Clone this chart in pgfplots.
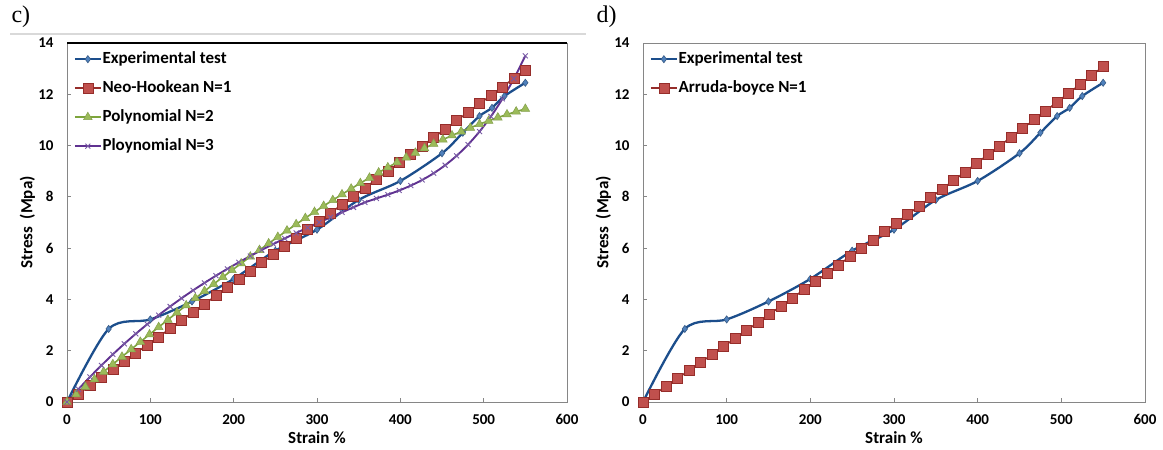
\documentclass[border=0pt]{standalone}
\usepackage{pgfplots}
\pgfplotsset{compat=1.18}
\usepackage{fontspec}
\setmainfont{Carlito}
\newfontfamily\seriffont{Liberation Serif}
\definecolor{bline}{RGB}{28,78,140}
\definecolor{bfill}{RGB}{79,129,189}
\definecolor{rline}{RGB}{150,45,42}
\definecolor{rfill}{RGB}{192,80,77}
\definecolor{gline}{RGB}{125,165,60}
\definecolor{gfill}{RGB}{155,187,89}
\definecolor{pline}{RGB}{96,50,145}
\definecolor{pmark}{RGB}{120,90,165}
\definecolor{axgray}{RGB}{134,134,134}

\pgfplotsset{
  panel/.style={
    scale only axis, height=359pt,
    xmin=0, xmax=600, ymin=0, ymax=14,
    xtick={0,100,...,600}, ytick={0,2,...,14},
    tick pos=left, tick align=inside, major tick length=4pt,
    axis line style={draw=axgray, line width=0.9pt},
    every tick/.style={axgray, line width=0.9pt},
    /pgf/number format/assume math mode=true,
    tick label style={font=\fontsize{15}{17}\selectfont\bfseries},
    xticklabel style={yshift=-9pt},
    yticklabel style={xshift=-10pt},
    xlabel={Strain \%}, ylabel={Stress\ \ (Mpa)},
    label style={font=\fontsize{17}{20}\selectfont\bfseries},
    xlabel style={at={(axis description cs:0.5,-0.1003)}, anchor=center},
    ylabel style={at={(axis description cs:-0.079,0.5)}, anchor=center},
    clip=false,
    legend cell align=left,
    legend style={draw=none, fill=none, at={(axis description cs:0.007,0.984)}, anchor=north west,
      font=\fontsize{17}{20}\selectfont\bfseries, row sep=12.5pt,
      nodes={inner sep=0.5pt, text height=12pt, text depth=3.5pt},
      /tikz/every even column/.append style={column sep=2pt}},
    legend image code/.code={\draw[mark repeat=2,mark phase=2,##1] plot coordinates {(0pt,0pt)(13pt,0pt)(26pt,0pt)};},
  },
  expst/.style={color=bline, line width=2.3pt, smooth, mark=diamond*, mark size=3.6pt,
    mark options={fill=bfill, draw=bfill!70!black, line width=0.6pt, solid}},
  redst/.style={color=rline, line width=1.6pt, smooth, mark=square*, mark size=5pt,
    mark options={fill=rfill, draw=rline, line width=0.6pt, solid}},
  grnst/.style={color=gline, line width=1.6pt, smooth, mark=triangle*, mark size=5pt,
    mark options={fill=gfill, draw=gfill!85!black, line width=0.5pt, solid}},
  purst/.style={color=pline, line width=1.9pt, smooth, mark=x, mark size=3.5pt,
    mark options={draw=pmark, line width=0.9pt, solid}},
}

\begin{document}
\begin{tikzpicture}
\useasboundingbox (0,0) rectangle (1163pt,450pt);
\node[anchor=west, font=\seriffont\fontsize{24}{26}\selectfont] at (8pt,433pt) {c)};
\node[anchor=west, font=\seriffont\fontsize{24}{26}\selectfont] at (593pt,433pt) {d)};
\draw[gray!30, line width=2pt] (10pt,416pt) -- (586pt,416pt);

% ---------- c) ----------
\begin{axis}[panel, width=500pt, at={(67pt,48pt)}, anchor=south west]
\addplot[expst] coordinates {(0,0)(50,2.85)(100,3.22)(150,3.92)(200,4.8)(250,5.9)(300,6.72)(350,7.88)(400,8.62)(450,9.7)(475,10.5)(495,11.15)(510,11.47)(525,11.93)(550,12.45)};
\addlegendentry{Experimental test}
\addplot[redst] coordinates {(0,0)(13.75,0.316)(27.5,0.633)(41.25,0.950)(55,1.268)(68.75,1.586)(82.5,1.904)(96.25,2.223)(110,2.542)(123.75,2.862)(137.5,3.181)(151.25,3.502)(165,3.822)(178.75,4.143)(192.5,4.465)(206.25,4.786)(220,5.108)(233.75,5.431)(247.5,5.754)(261.25,6.077)(275,6.401)(288.75,6.725)(302.5,7.049)(316.25,7.374)(330,7.699)(343.75,8.024)(357.5,8.350)(371.25,8.677)(385,9.003)(398.75,9.330)(412.5,9.658)(426.25,9.986)(440,10.314)(453.75,10.642)(467.5,10.971)(481.25,11.300)(495,11.630)(508.75,11.960)(522.5,12.290)(536.25,12.621)(550,12.953)};
\addlegendentry{Neo-Hookean N=1}
\addplot[grnst] coordinates {(0,0)(11,0.296)(22,0.591)(33,0.885)(44,1.179)(55,1.472)(66,1.764)(77,2.055)(88,2.345)(99,2.633)(110,2.920)(121,3.205)(132,3.488)(143,3.769)(154,4.047)(165,4.324)(176,4.598)(187,4.870)(198,5.138)(209,5.404)(220,5.667)(231,5.927)(242,6.183)(253,6.436)(264,6.685)(275,6.931)(286,7.173)(297,7.410)(308,7.644)(319,7.873)(330,8.098)(341,8.318)(352,8.533)(363,8.744)(374,8.949)(385,9.149)(396,9.344)(407,9.533)(418,9.717)(429,9.895)(440,10.067)(451,10.233)(462,10.393)(473,10.546)(484,10.693)(495,10.834)(506,10.967)(517,11.093)(528,11.213)(539,11.325)(550,11.430)};
\addlegendentry{Polynomial N=2}
\addplot[purst] coordinates {(0,0)(13.75,0.498)(27.5,0.974)(41.25,1.426)(55,1.857)(68.75,2.268)(82.5,2.659)(96.25,3.031)(110,3.386)(123.75,3.724)(137.5,4.045)(151.25,4.352)(165,4.645)(178.75,4.925)(192.5,5.192)(206.25,5.448)(220,5.694)(233.75,5.930)(247.5,6.158)(261.25,6.378)(275,6.591)(288.75,6.799)(302.5,7.002)(316.25,7.201)(330,7.397)(343.75,7.591)(357.5,7.784)(371.25,7.937)(385,8.086)(398.75,8.250)(412.5,8.439)(426.25,8.660)(440,8.921)(453.75,9.232)(467.5,9.601)(481.25,10.036)(495,10.545)(508.75,11.138)(522.5,11.822)(536.25,12.607)(550,13.500)};
\addlegendentry{Ploynomial N=3}
\draw[black, line width=1.8pt] (rel axis cs:0,1) -- (rel axis cs:1,1);
\end{axis}

% ---------- d) ----------
\begin{axis}[panel, width=502pt, at={(643pt,48pt)}, anchor=south west]
\addplot[expst] coordinates {(0,0)(50,2.85)(100,3.22)(150,3.92)(200,4.8)(250,5.9)(300,6.72)(350,7.88)(400,8.62)(450,9.7)(475,10.5)(495,11.15)(510,11.47)(525,11.93)(550,12.45)};
\addlegendentry{Experimental test}
\addplot[redst] coordinates {(0,0)(13.75,0.306)(27.5,0.613)(41.25,0.921)(55,1.230)(68.75,1.540)(82.5,1.851)(96.25,2.163)(110,2.477)(123.75,2.791)(137.5,3.107)(151.25,3.424)(165,3.741)(178.75,4.060)(192.5,4.380)(206.25,4.701)(220,5.023)(233.75,5.347)(247.5,5.671)(261.25,5.996)(275,6.323)(288.75,6.650)(302.5,6.979)(316.25,7.309)(330,7.640)(343.75,7.972)(357.5,8.305)(371.25,8.639)(385,8.974)(398.75,9.310)(412.5,9.648)(426.25,9.986)(440,10.326)(453.75,10.666)(467.5,11.008)(481.25,11.351)(495,11.695)(508.75,12.040)(522.5,12.386)(536.25,12.733)(550,13.081)};
\addlegendentry{Arruda-boyce N=1}
\end{axis}
\end{tikzpicture}
\end{document}
